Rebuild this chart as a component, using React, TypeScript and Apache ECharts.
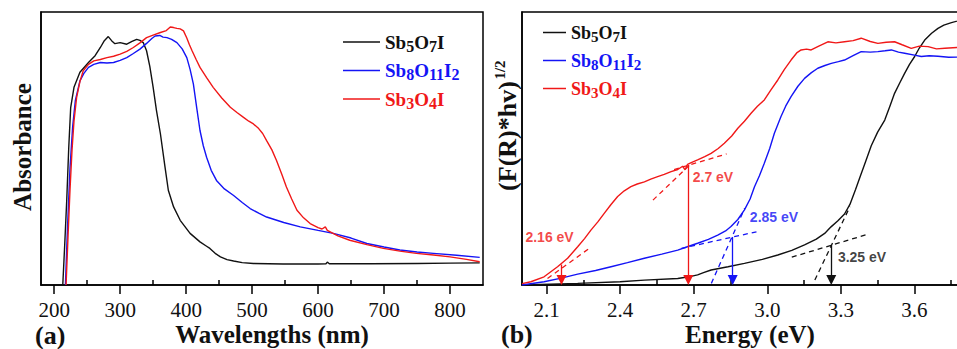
import React, { useEffect, useRef } from "react";
import * as echarts from "echarts";

// ---------- data ----------
const seriesNames = ["Sb5O7I", "Sb8O11I2", "Sb3O4I"];

const wavelengthTicks = [200, 300, 400, 500, 600, 700, 800];
const wavelengthMinorTicks = [250, 350, 450, 550, 650, 750];
const energyTicks = [2.1, 2.4, 2.7, 3.0, 3.3, 3.6];
const energyMinorTicks = [2.25, 2.55, 2.85, 3.15, 3.45, 3.75];

// (a) absorbance vs wavelength (nm)
const absSb5O7I = [
  [213, 0], [216, 15], [219, 31], [222, 50], [225, 65], [230, 72.4], [239, 77.9], [252, 81.5], [262, 84], [270, 87],
  [276, 89.5], [282, 91], [287, 89.5], [292, 88.4], [300, 88.8], [310, 88.2], [318, 89.2], [325, 90], [330, 89.6],
  [335, 88.8], [340, 85.8], [345, 80], [350, 72.4], [355, 64], [361, 55.4], [368, 43.2], [373, 34.7], [381, 28.6],
  [391, 23.7], [406, 18.9], [421, 15.8], [431, 14.2], [436, 13.4], [444, 11.6], [452, 10.3], [462, 9.3], [472, 8.8],
  [485, 8.2], [502, 7.9], [547, 7.7], [600, 7.7], [612, 7.8], [614, 8.4], [617, 7.8], [680, 7.8], [750, 7.9],
  [800, 8.0], [845, 8.1],
];
const absSb8O11I2 = [
  [217, 0], [220, 20], [224, 43], [228, 58], [232, 67.5], [239, 74.8], [245, 77.5], [252, 79.7], [260, 80.8],
  [270, 81.5], [280, 81.3], [290, 81.5], [300, 82.3], [310, 83.3], [320, 84.8], [330, 86.4], [340, 88.5],
  [348, 90.3], [353, 91.2], [360, 91.4], [365, 90.8], [371, 90.6], [378, 90], [386, 88.8], [394, 86.5],
  [401, 83.3], [406, 79], [411, 73.6], [416, 65], [421, 56.6], [426, 51], [431, 46.8], [438, 42], [446, 38.3],
  [458, 35.2], [472, 32.8], [485, 30.2], [497, 28], [510, 26.3], [522, 24.9], [548, 22.9], [573, 21.3],
  [600, 20], [623, 18.9], [650, 17.2], [674, 15.2], [700, 13.9], [724, 12.8], [750, 12.1], [775, 11.6],
  [810, 10.9], [845, 10.1],
];
const absSb3O4I = [
  [218, 0], [221, 18], [224, 35], [227, 49.3], [230, 60], [234, 68.7], [239, 74.5], [244, 78.5], [252, 80.8],
  [260, 82.1], [270, 82.6], [280, 83.3], [290, 83.8], [300, 84.6], [310, 85.6], [320, 87], [330, 88.7],
  [340, 90.6], [350, 91.5], [361, 92.5], [370, 93.2], [376, 94.5], [381, 94.3], [386, 94], [391, 93.8],
  [396, 93.1], [401, 90.5], [405, 88], [409, 85.8], [415, 82.7], [421, 79.7], [431, 76], [441, 72.4],
  [454, 68.5], [467, 65.1], [477, 63.2], [487, 61.4], [495, 60], [502, 59], [510, 57.3], [516, 55.5],
  [522, 52.9], [530, 49.5], [537, 45.6], [545, 40.6], [552, 35.9], [560, 31.5], [568, 27.4], [578, 24.6],
  [588, 22.5], [600, 21], [606, 20.5], [611, 21.3], [614, 20], [630, 18], [648, 16.4], [674, 14.8],
  [699, 13.4], [724, 12.4], [749, 11.6], [775, 11], [800, 10.3], [825, 9.4], [845, 8.5],
];

// (b) (F(R)*hv)^1/2 vs energy (eV)
const kmSb5O7I = [
  [2.0, 0], [2.227, 0.6], [2.4, 1.2], [2.499, 1.8], [2.635, 2.4], [2.68, 3], [2.716, 3.7], [2.74, 4.5],
  [2.771, 5.5], [2.84, 6.7], [2.907, 7.9], [2.98, 9.4], [3.043, 11], [3.1, 12.7], [3.152, 14.7], [3.2, 16.8],
  [3.234, 18.9], [3.26, 21.3], [3.288, 23.5], [3.315, 26], [3.337, 29.5], [3.36, 35], [3.38, 40], [3.4, 45],
  [3.424, 51], [3.45, 56], [3.479, 60.4], [3.5, 65.5], [3.519, 70.2], [3.54, 74], [3.56, 77.5], [3.58, 80.8],
  [3.601, 83.7], [3.62, 86.8], [3.642, 89.7], [3.67, 92.2], [3.696, 94], [3.72, 95.2], [3.751, 96.1], [3.8, 97.3],
];
const kmSb8O11I2 = [
  [2.0, 0], [2.09, 1.2], [2.16, 2.5], [2.227, 4], [2.3, 5.3], [2.363, 6.7], [2.43, 8.2], [2.499, 9.8],
  [2.57, 11.3], [2.635, 12.8], [2.68, 14.2], [2.716, 15.3], [2.76, 16.7], [2.798, 18.3], [2.83, 19.8],
  [2.852, 21.4], [2.88, 24], [2.907, 27.5], [2.93, 31.5], [2.948, 36], [2.968, 40], [2.988, 44.6], [3.01, 50],
  [3.029, 55.6], [3.056, 61.7], [3.075, 65.5], [3.097, 69], [3.125, 72.8], [3.152, 75.7], [3.18, 77.8],
  [3.206, 79.4], [3.235, 80.4], [3.261, 81.2], [3.29, 81.8], [3.315, 82.4], [3.35, 84], [3.383, 85.5],
  [3.42, 85.3], [3.451, 85.5], [3.48, 85.8], [3.506, 86.1], [3.535, 85.3], [3.56, 84.9], [3.6, 84.2],
  [3.628, 83.7], [3.66, 84], [3.696, 83.8], [3.74, 83.4], [3.8, 83.5],
];
const kmSb3O4I = [
  [2.0, 0.5], [2.036, 1.2], [2.09, 3], [2.145, 6.7], [2.186, 9.8], [2.227, 14], [2.255, 17], [2.281, 20.1],
  [2.31, 23.2], [2.336, 26.3], [2.363, 29.5], [2.39, 32.4], [2.417, 34.5], [2.444, 36], [2.47, 37],
  [2.499, 37.8], [2.525, 38.8], [2.553, 39.7], [2.58, 40.5], [2.608, 41.5], [2.635, 42.3], [2.655, 43.5],
  [2.665, 42.2], [2.675, 44.2], [2.69, 44.8], [2.716, 45.8], [2.745, 47], [2.771, 48.2], [2.8, 50],
  [2.825, 51.9], [2.855, 54.6], [2.88, 57.4], [2.907, 60], [2.934, 62.9], [2.96, 65.5], [2.988, 67.8],
  [3.015, 71.5], [3.043, 75.1], [3.07, 79], [3.097, 82.4], [3.12, 85], [3.138, 86.1], [3.16, 86.4],
  [3.179, 86.1], [3.21, 87.5], [3.247, 89.1], [3.28, 88.7], [3.315, 89.1], [3.35, 89.5], [3.383, 90.4],
  [3.42, 89.2], [3.451, 88.5], [3.485, 88.9], [3.519, 89.1], [3.55, 88], [3.587, 86.7], [3.62, 87.5],
  [3.656, 87.3], [3.69, 86.5], [3.724, 86.7], [3.774, 87], [3.8, 87],
];

// band-gap extrapolation lines (eV, value)
const tangentRed1 = [[2.104, 2.4], [2.274, 13.4]];
const tangentRed2 = [[2.534, 31.1], [2.684, 44.0]];
const tangentRed3 = [[2.62, 42.3], [2.834, 48.0]];
const tangentBlue1 = [[2.65, 13.4], [2.956, 19.5]];
const tangentBlue2 = [[2.772, 0.6], [2.908, 28.1]];
const tangentBlack1 = [[3.1, 10.2], [3.41, 18.6]];
const tangentBlack2 = [[3.194, 1.8], [3.337, 28.7]];

// arrows: [energy, from value, to value]
const arrowsRed = [[2.161, 7.5, 1.8], [2.678, 44, 1.8]];
const arrowsBlue = [[2.859, 17.6, 1.8]];
const arrowsBlack = [[3.261, 14.5, 1.8]];

// band-gap labels: [energy, value, text]
const gapLabels = [
  [2.014, 17.6, "2.16 eV"],
  [2.696, 39.6, "2.7 eV"],
  [2.929, 24.9, "2.85 eV"],
  [3.288, 10.3, "3.25 eV"],
];

// ---------- styles ----------
const COLORS: Record<string, string> = { Sb5O7I: "#111111", Sb8O11I2: "#1414f5", Sb3O4I: "#f01818" };
const LABEL_COLORS = ["#f01818", "#f01818", "#1414f5", "#111111"];
const SERIF = "Liberation Serif";
const SANS = "Liberation Sans";

const FORMULA: Record<string, string> = {
  Sb5O7I: "Sb{K|5}O{K|7}I",
  Sb8O11I2: "Sb{B|8}O{B|11}I{B|2}",
  Sb3O4I: "Sb{R|3}O{R|4}I",
};

function subRich(size: number, pad: number) {
  const base = { fontSize: size, fontWeight: "bold", fontFamily: SERIF, lineHeight: size, padding: [pad, 0, 0, 0] };
  return {
    K: { ...base, color: COLORS.Sb5O7I },
    B: { ...base, color: COLORS.Sb8O11I2 },
    R: { ...base, color: COLORS.Sb3O4I },
  };
}

function makeLegend(left: number, top: number, iw: number, gap: number, fs: number, sfs: number) {
  return {
    orient: "vertical",
    left,
    top,
    padding: 0,
    icon: "rect",
    itemWidth: iw,
    itemHeight: 1.5,
    itemGap: gap,
    selectedMode: false,
    formatter: (n: string) => FORMULA[n],
    textStyle: {
      fontFamily: SERIF,
      fontWeight: "bold",
      fontSize: fs,
      lineHeight: fs,
      rich: subRich(sfs, 8),
    },
    data: seriesNames.map((n) => ({ name: n, textStyle: { color: COLORS[n] } })),
  };
}

export default function App() {
  const ref = useRef<HTMLDivElement>(null);
  useEffect(() => {
    const chart = echarts.init(ref.current!, null, { renderer: "svg" });

    const majorAxis = (gridIndex: number, min: number, max: number, ticks: number[], fmt: (v: number) => string) => ({
      type: "value",
      gridIndex,
      min,
      max,
      axisLine: { show: true, onZero: false, lineStyle: { color: "#000", width: 1.5 } },
      axisTick: { show: true, inside: false, length: 9, customValues: ticks, lineStyle: { color: "#000", width: 1.5 } },
      axisLabel: {
        show: true,
        customValues: ticks,
        margin: 14,
        color: "#111",
        fontFamily: SERIF,
        fontWeight: "normal",
        fontSize: 21,
        formatter: fmt,
      },
      splitLine: { show: false },
    });
    const minorAxis = (gridIndex: number, min: number, max: number, ticks: number[]) => ({
      type: "value",
      gridIndex,
      min,
      max,
      axisLine: { show: false },
      axisTick: { show: true, inside: false, length: 5, customValues: ticks, lineStyle: { color: "#000", width: 1.5 } },
      axisLabel: { show: false },
      splitLine: { show: false },
    });
    const yAxis = (gridIndex: number) => ({
      type: "value",
      gridIndex,
      min: 0,
      max: 100,
      axisLine: { show: true, lineStyle: { color: "#000", width: 1.5 } },
      axisTick: { show: false },
      axisLabel: { show: false },
      splitLine: { show: false },
    });

    const curve = (name: string, data: number[][], xi: number, yi: number) => ({
      type: "line",
      name,
      xAxisIndex: xi,
      yAxisIndex: yi,
      data,
      symbol: "none",
      smooth: false,
      lineStyle: { color: COLORS[name], width: 1.4 },
      itemStyle: { color: COLORS[name] },
      silent: true,
      z: 3,
    });

    const arrowLines = (arr: number[][]) =>
      arr.map(([x, y1, y2]) => [{ coord: [x, y1] }, { coord: [x, y2] }]);

    const tangent = (id: string, data: number[][], color: string, arrows?: number[][]) => ({
      type: "line",
      name: id,
      xAxisIndex: 2,
      yAxisIndex: 1,
      data,
      symbol: "none",
      lineStyle: { color, width: 1.3, type: [5, 4] },
      silent: true,
      z: 4,
      markLine: arrows
        ? {
            silent: true,
            symbol: ["none", "triangle"],
            symbolSize: 10,
            label: { show: false },
            lineStyle: { color, width: 1.3, type: "solid" },
            data: arrowLines(arrows),
          }
        : undefined,
    });

    const titleStyle = (text: string, size: number, align = "center") => ({
      text,
      fill: "#111",
      fontFamily: SERIF,
      fontWeight: "bold",
      fontSize: size,
      align,
      verticalAlign: "middle",
    });

    const option: any = {
      animation: false,
      backgroundColor: "#fff",
      textStyle: { fontFamily: SERIF },
      grid: [
        { left: 41, top: 12, width: 442, height: 273, show: true, borderColor: "#000", borderWidth: 1.5, outerBoundsMode: "none", containLabel: false },
        { left: 522, top: 12, width: 466, height: 273, show: true, borderColor: "#000", borderWidth: 1.5, outerBoundsMode: "none", containLabel: false },
      ],
      xAxis: [
        majorAxis(0, 180, 850, wavelengthTicks, (v: number) => String(Math.round(v))),
        minorAxis(0, 180, 850, wavelengthMinorTicks),
        majorAxis(1, 2.0, 3.9, energyTicks, (v: number) => v.toFixed(1)),
        minorAxis(1, 2.0, 3.9, energyMinorTicks),
      ],
      yAxis: [yAxis(0), yAxis(1)],
      legend: [makeLegend(343, 30, 37, 4.5, 19, 16), makeLegend(543, 21, 23, 5, 18, 15)],
      series: [
        curve("Sb5O7I", absSb5O7I, 0, 0),
        curve("Sb8O11I2", absSb8O11I2, 0, 0),
        curve("Sb3O4I", absSb3O4I, 0, 0),
        curve("Sb5O7I", kmSb5O7I, 2, 1),
        curve("Sb8O11I2", kmSb8O11I2, 2, 1),
        curve("Sb3O4I", kmSb3O4I, 2, 1),
        tangent("tR1", tangentRed1, COLORS.Sb3O4I, arrowsRed),
        tangent("tR2", tangentRed2, COLORS.Sb3O4I),
        tangent("tR3", tangentRed3, COLORS.Sb3O4I),
        tangent("tB1", tangentBlue1, COLORS.Sb8O11I2, arrowsBlue),
        tangent("tB2", tangentBlue2, COLORS.Sb8O11I2),
        tangent("tK1", tangentBlack1, COLORS.Sb5O7I, arrowsBlack),
        tangent("tK2", tangentBlack2, COLORS.Sb5O7I),
        {
          type: "scatter",
          name: "gaps",
          xAxisIndex: 2,
          yAxisIndex: 1,
          symbolSize: 0,
          silent: true,
          data: gapLabels.map((g, i) => ({
            name: g[2],
            value: [g[0], g[1]],
            label: { color: LABEL_COLORS[i] },
          })),
          label: {
            show: true,
            position: "right",
            distance: 0,
            formatter: "{b}",
            fontFamily: SANS,
            fontWeight: "bold",
            fontSize: 14,
          },
          z: 5,
        },
      ],
      graphic: [
        { type: "text", x: 22, y: 147, rotation: Math.PI / 2, style: titleStyle("Absorbance", 25) },
        { type: "text", x: 507, y: 136, rotation: Math.PI / 2, style: titleStyle("(F(R)*hv)", 26) },
        { type: "text", x: 500, y: 70, rotation: Math.PI / 2, style: titleStyle("1/2", 15) },
        { type: "text", x: 272, y: 334, style: titleStyle("Wavelengths (nm)", 25) },
        { type: "text", x: 750, y: 334, style: titleStyle("Energy (eV)", 25) },
        { type: "text", x: 35, y: 335, style: titleStyle("(a)", 26, "left") },
        { type: "text", x: 501, y: 334, style: titleStyle("(b)", 26, "left") },
      ],
    };

    chart.setOption(option);
    return () => chart.dispose();
  }, []);

  return (
    <div
      ref={ref}
      style={{ position: "absolute", left: 0, top: 0, width: 957, height: 349, background: "#fff" }}
    />
  );
}
